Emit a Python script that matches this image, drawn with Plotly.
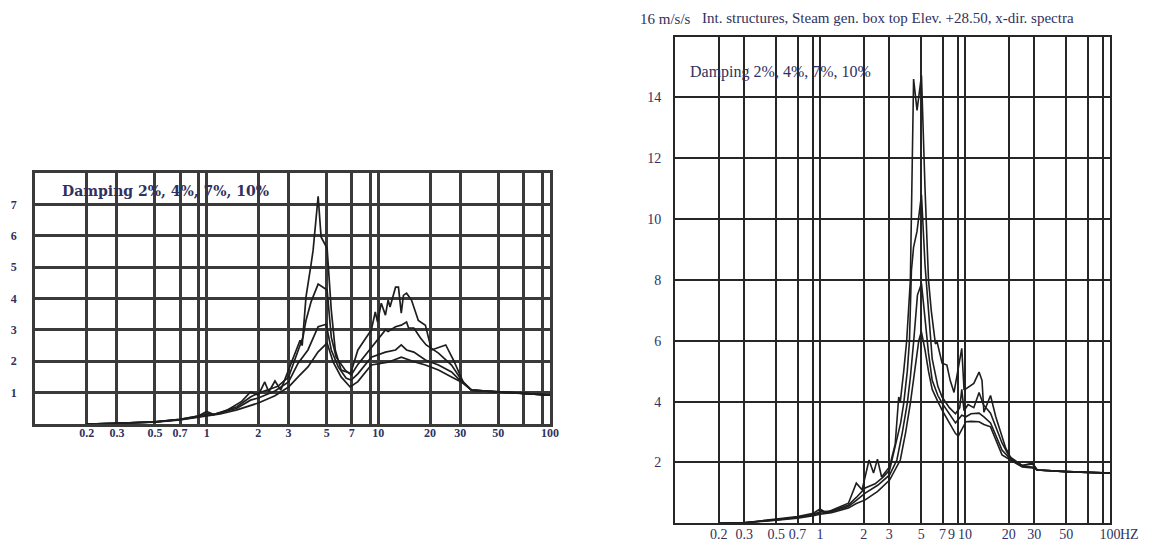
import plotly.graph_objects as go

# ---------------- data: left chart ----------------
left_f2 = [0.2,0.3,0.5,0.7,0.9,1.0,1.1,1.3,1.6,1.8,2.0,2.18,2.3,2.5,2.7,3.0,3.2,3.5,3.6,3.79,4.06,4.17,4.46,4.64,5.03,5.32,5.61,6.07,6.85,7.0,7.6,9.1,9.6,9.9,10.4,11.0,11.4,11.7,12.6,13.1,13.6,14.0,14.6,15.6,17.1,18.8,20.4,24.7,27.4,31.4,34.9,50,100]
left_v2 = [0.0,0.02,0.07,0.15,0.26,0.40,0.30,0.42,0.72,1.02,0.92,1.34,1.02,1.37,1.08,1.70,2.10,2.67,2.50,4.05,5.10,5.54,7.26,5.96,5.6,3.63,2.36,1.72,1.62,1.72,2.36,3.0,3.57,3.25,3.85,3.47,3.95,3.73,4.36,4.36,3.53,4.1,4.17,3.95,3.3,3.15,2.36,2.52,2.04,1.3,1.08,1.02,0.92]

left_f4 = [0.2,0.3,0.5,0.7,0.9,1.0,1.1,1.5,1.8,2.0,2.3,2.6,3.0,3.31,3.64,3.79,4.06,4.46,5.03,5.32,5.68,6.41,6.95,7.6,9.1,10.4,11.0,11.4,12.6,13.6,14.6,15.0,16.1,17.6,19.0,22.4,26.7,30.5,34.9,50,100]
left_v4 = [0.0,0.02,0.07,0.15,0.25,0.33,0.30,0.55,0.86,0.99,1.1,1.2,1.5,2.13,2.77,3.3,3.9,4.46,4.27,2.77,2.13,1.72,1.56,1.9,2.45,2.85,3.0,2.95,3.1,3.15,3.25,3.06,3.06,2.74,2.52,2.26,1.88,1.4,1.08,1.02,0.92]

left_f7 = [0.2,0.3,0.5,0.7,0.9,1.0,1.2,1.5,1.8,2.0,2.5,3.0,3.41,3.89,4.46,4.97,5.32,5.84,6.5,6.95,7.6,9.1,11.0,12.6,13.6,14.6,16.1,18.8,22.4,26.7,30.5,34.9,50,100]
left_v7 = [0.0,0.02,0.07,0.14,0.23,0.28,0.35,0.50,0.76,0.83,1.05,1.34,1.94,2.36,3.1,3.18,2.36,1.82,1.46,1.4,1.6,2.13,2.29,2.36,2.52,2.36,2.29,2.04,1.88,1.66,1.34,1.08,1.02,0.92]

left_f10 = [0.2,0.3,0.5,0.7,0.9,1.0,1.2,1.5,1.8,2.0,2.5,3.0,3.41,3.89,4.46,5.03,5.46,6.07,6.85,7.6,9.1,11.4,13.6,15.0,16.5,18.8,22.4,26.7,31.4,34.9,50,100]
left_v10 = [0.0,0.02,0.06,0.13,0.21,0.25,0.32,0.45,0.6,0.67,0.9,1.18,1.5,1.82,2.3,2.58,1.97,1.5,1.18,1.35,1.88,1.97,2.13,2.04,1.97,1.88,1.72,1.5,1.3,1.08,1.02,0.92]

# ---------------- data: right chart ----------------
right_f2 = [0.2,0.3,0.5,0.7,0.9,1.0,1.1,1.3,1.57,1.78,1.95,2.18,2.34,2.49,2.66,3.02,3.3,3.49,3.58,3.78,3.96,4.2,4.32,4.42,4.67,5.01,5.3,5.6,5.85,6.25,6.43,6.95,7.5,7.9,8.4,8.8,9.5,9.85,10.65,11.5,12.5,13.1,13.5,15.0,16.3,19.1,21.1,24.8,27.5,29.2,31.5,50,100]
right_v2 = [0.0,0.02,0.14,0.22,0.33,0.47,0.35,0.5,0.66,1.32,1.1,2.08,1.65,2.11,1.52,1.86,2.6,4.15,4.0,5.0,6.0,8.0,11.0,14.6,13.57,14.72,11.0,8.0,7.0,5.9,5.95,5.26,5.2,4.7,4.3,4.9,5.75,4.38,4.48,4.6,4.97,4.7,3.65,4.2,3.5,2.47,2.08,1.9,1.95,1.98,1.75,1.7,1.65]

right_f4 = [0.2,0.3,0.5,0.7,0.9,1.0,1.2,1.57,1.78,2.05,2.4,2.7,3.02,3.3,3.6,3.78,4.0,4.14,4.27,4.42,4.67,5.01,5.3,5.6,5.94,6.5,6.95,7.8,8.6,9.2,9.5,9.85,10.5,11.5,12.5,13.4,15.0,18.0,20.2,24.8,29.2,31.5,50,100]
right_v4 = [0.0,0.02,0.12,0.2,0.3,0.38,0.4,0.6,0.85,1.16,1.3,1.5,1.75,2.5,3.3,3.95,5.0,6.0,8.3,9.08,9.6,10.8,8.5,7.0,5.4,4.5,4.15,3.8,3.6,3.8,4.4,3.7,3.9,3.8,4.3,3.9,3.62,2.64,2.2,1.9,1.95,1.75,1.7,1.65]

right_f7 = [0.2,0.3,0.5,0.7,0.9,1.0,1.2,1.57,1.78,2.05,2.5,3.02,3.39,3.7,4.0,4.2,4.43,4.7,5.01,5.3,5.6,5.94,6.5,6.95,7.8,8.6,9.5,10.15,11.0,12.5,13.5,15.0,18.0,20.2,24.8,29.2,31.5,50,100]
right_v7 = [0.0,0.02,0.11,0.19,0.28,0.33,0.38,0.55,0.75,0.99,1.25,1.59,2.08,3.0,3.95,4.8,6.0,7.5,7.88,6.8,5.6,4.7,4.2,3.95,3.6,3.3,3.55,3.5,3.6,3.62,3.5,3.3,2.41,2.15,1.88,1.85,1.75,1.7,1.65]

right_f10 = [0.2,0.3,0.5,0.7,0.9,1.0,1.2,1.57,1.78,2.05,2.5,3.02,3.58,3.9,4.2,4.5,4.8,5.0,5.3,5.6,5.94,6.5,6.95,7.8,8.6,9.0,9.5,10.15,11.0,12.5,13.5,15.0,18.0,20.2,24.8,29.2,31.5,50,100]
right_v10 = [0.0,0.02,0.1,0.17,0.25,0.3,0.35,0.5,0.65,0.77,1.05,1.42,2.08,3.0,3.95,5.0,6.0,6.3,5.7,5.0,4.4,4.0,3.72,3.3,2.95,2.87,3.1,3.34,3.35,3.34,3.25,3.17,2.25,2.1,1.85,1.82,1.75,1.7,1.65]

# ---------------- ticks / labels ----------------
x_tickvals = [0.2,0.3,0.5,0.7,0.9,1,2,3,5,7,9,10,20,30,50,70,90,100]
left_x_ticktext = ["0.2","0.3","0.5","0.7","","1","2","3","5","7","","10","20","30","50","","","100"]
# the "9" label of the right chart sits just left of its grid line; drawn as a note below
right_x_ticktext = ["0.2","0.3","0.5","0.7","","1","2","3","5","7","","10","20","30","50","","","100"]
left_y_tickvals = [1,2,3,4,5,6,7]
left_y_ticktext = ["1","2","3","4","5","6","7"]
right_y_tickvals = [2,4,6,8,10,12,14]
right_y_ticktext = ["2","4","6","8","10","12","14"]

title_text = "Int. structures, Steam gen. box top Elev. +28.50, x-dir. spectra"
unit_text = "16 m/s/s"
damping_text = "Damping 2%, 4%, 7%, 10%"
hz_text = "HZ"
nine_text = "9"

W, H = 1154, 542
TXT = "#2f3160"
SERIF = "Liberation Serif, Times New Roman, serif"

fig = go.Figure()
for f, v in [(left_f2, left_v2), (left_f4, left_v4), (left_f7, left_v7), (left_f10, left_v10)]:
    fig.add_trace(go.Scatter(x=f, y=v, mode="lines", xaxis="x", yaxis="y",
                             line=dict(color="#1e1e1e", width=1.7), showlegend=False))
for f, v in [(right_f2, right_v2), (right_f4, right_v4), (right_f7, right_v7), (right_f10, right_v10)]:
    fig.add_trace(go.Scatter(x=f, y=v, mode="lines", xaxis="x2", yaxis="y2",
                             line=dict(color="#1e1e1e", width=1.6), showlegend=False))

def px_x(p):
    return p / W

def px_y(p):
    return 1 - p / H

left_font = dict(family=SERIF, size=12, color=TXT, weight="bold")
right_font = dict(family=SERIF, size=14, color=TXT)

fig.update_layout(
    width=W, height=H,
    margin=dict(l=0, r=0, t=0, b=0, autoexpand=False),
    paper_bgcolor="white", plot_bgcolor="white",
    showlegend=False,
    xaxis=dict(type="log", range=[-1, 2], domain=[px_x(35), px_x(550)], anchor="y",
               tickvals=x_tickvals, ticktext=left_x_ticktext, tickfont=left_font,
               showgrid=True, gridcolor="#3a3a3a", gridwidth=2.5,
               showline=True, mirror=True, linecolor="#3a3a3a", linewidth=2.5,
               zeroline=False, ticks="", ticklen=0, ticklabelstandoff=-4, tickangle=0,
               automargin=False),
    yaxis=dict(range=[0, 8], domain=[px_y(424), px_y(173)], anchor="x",
               tickvals=left_y_tickvals, ticktext=left_y_ticktext, tickfont=left_font,
               showgrid=True, gridcolor="#3a3a3a", gridwidth=2.5,
               showline=True, mirror=True, linecolor="#3a3a3a", linewidth=2.5,
               zeroline=False, ticks="", ticklen=0, ticklabelstandoff=13, automargin=False),
    xaxis2=dict(type="log", range=[-1, 2], domain=[px_x(675), px_x(1110)], anchor="y2",
                tickvals=x_tickvals, ticktext=right_x_ticktext, tickfont=right_font,
                showgrid=True, gridcolor="#262626", gridwidth=2,
                showline=True, mirror=True, linecolor="#262626", linewidth=2,
                zeroline=False, ticks="", ticklen=0, ticklabelstandoff=-3, tickangle=0,
                automargin=False),
    yaxis2=dict(range=[0, 16], domain=[px_y(523.3), px_y(36.5)], anchor="x2",
                tickvals=right_y_tickvals, ticktext=right_y_ticktext, tickfont=right_font,
                showgrid=True, gridcolor="#262626", gridwidth=2,
                showline=True, mirror=True, linecolor="#262626", linewidth=2,
                zeroline=False, ticks="", ticklen=0, ticklabelstandoff=9, automargin=False),
)

annos = [
    dict(text=damping_text, x=px_x(60), y=px_y(191), xanchor="left", yanchor="middle",
         font=dict(family="DejaVu Serif, serif", size=14, color=TXT, weight="bold")),
    dict(text=damping_text, x=px_x(688), y=px_y(72), xanchor="left", yanchor="middle",
         font=dict(family=SERIF, size=16, color=TXT)),
    dict(text=unit_text, x=px_x(638), y=px_y(19), xanchor="left", yanchor="middle",
         font=dict(family=SERIF, size=15, color=TXT)),
    dict(text=title_text, x=px_x(700), y=px_y(18), xanchor="left", yanchor="middle",
         font=dict(family=SERIF, size=15, color=TXT)),
    dict(text=nine_text, x=px_x(951), y=px_y(534), xanchor="center", yanchor="middle",
         font=dict(family=SERIF, size=14, color=TXT)),
    dict(text=hz_text, x=px_x(1118), y=px_y(534), xanchor="left", yanchor="middle",
         font=dict(family=SERIF, size=14, color=TXT)),
]
for a in annos:
    a.update(xref="paper", yref="paper", showarrow=False)
fig.update_layout(annotations=annos)

fig.write_html("out.html")
